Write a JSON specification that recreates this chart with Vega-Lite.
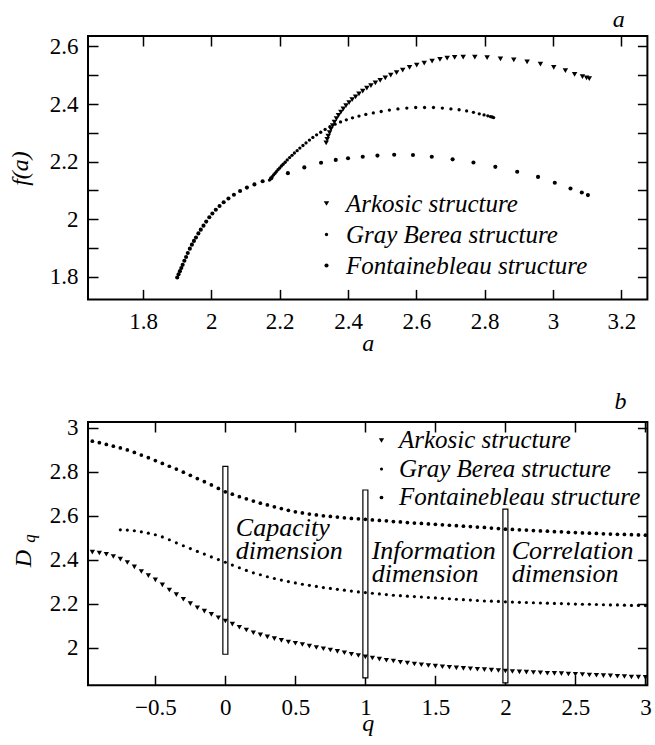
{
"$schema": "https://vega.github.io/schema/vega-lite/v6.json",
"padding": {"left": 8, "top": 7, "right": 5, "bottom": 5},
"background": "white",
"config": {
  "font": "Liberation Serif, Times New Roman, Tinos, DejaVu Serif, serif",
  "view": {"stroke": "black", "strokeWidth": 2},
  "axis": {"domain": false, "grid": false, "minExtent": 0, "tickColor": "black", "tickWidth": 1.5, "tickSize": -10, "labelFont": "Liberation Serif, Times New Roman, Tinos, DejaVu Serif, serif", "labelFontSize": 23, "labelColor": "black", "labelFlush": false, "labelOverlap": false, "titleFont": "Liberation Serif, Times New Roman, Tinos, DejaVu Serif, serif", "titleFontStyle": "italic", "titleFontWeight": "normal", "titleFontSize": 24, "titleColor": "black"},
  "axisX": {"labelPadding": 21.5},
  "axisY": {"labelPadding": 20},
  "legend": {"labelFont": "Liberation Serif, Times New Roman, Tinos, DejaVu Serif, serif"},
  "text": {"font": "Liberation Serif, Times New Roman, Tinos, DejaVu Serif, serif"}
},
"datasets": {
  "fa": [
    {"s":"Arkosic structure","a":2.336,"f":2.265},{"s":"Arkosic structure","a":2.339,"f":2.277},{"s":"Arkosic structure","a":2.342,"f":2.289},{"s":"Arkosic structure","a":2.346,"f":2.301},{"s":"Arkosic structure","a":2.350,"f":2.313},{"s":"Arkosic structure","a":2.355,"f":2.325},{"s":"Arkosic structure","a":2.360,"f":2.337},{"s":"Arkosic structure","a":2.366,"f":2.349},{"s":"Arkosic structure","a":2.372,"f":2.361},{"s":"Arkosic structure","a":2.379,"f":2.372},{"s":"Arkosic structure","a":2.386,"f":2.383},{"s":"Arkosic structure","a":2.394,"f":2.394},{"s":"Arkosic structure","a":2.403,"f":2.405},{"s":"Arkosic structure","a":2.412,"f":2.415},{"s":"Arkosic structure","a":2.422,"f":2.425},{"s":"Arkosic structure","a":2.432,"f":2.435},{"s":"Arkosic structure","a":2.443,"f":2.445},{"s":"Arkosic structure","a":2.455,"f":2.455},{"s":"Arkosic structure","a":2.467,"f":2.464},{"s":"Arkosic structure","a":2.480,"f":2.473},{"s":"Arkosic structure","a":2.494,"f":2.482},{"s":"Arkosic structure","a":2.509,"f":2.491},{"s":"Arkosic structure","a":2.525,"f":2.500},{"s":"Arkosic structure","a":2.542,"f":2.509},{"s":"Arkosic structure","a":2.560,"f":2.518},{"s":"Arkosic structure","a":2.580,"f":2.527},{"s":"Arkosic structure","a":2.601,"f":2.535},{"s":"Arkosic structure","a":2.623,"f":2.542},{"s":"Arkosic structure","a":2.646,"f":2.549},{"s":"Arkosic structure","a":2.669,"f":2.555},{"s":"Arkosic structure","a":2.690,"f":2.559},{"s":"Arkosic structure","a":2.712,"f":2.562},{"s":"Arkosic structure","a":2.737,"f":2.563},{"s":"Arkosic structure","a":2.771,"f":2.563},{"s":"Arkosic structure","a":2.807,"f":2.561},{"s":"Arkosic structure","a":2.846,"f":2.557},{"s":"Arkosic structure","a":2.885,"f":2.553},{"s":"Arkosic structure","a":2.924,"f":2.546},{"s":"Arkosic structure","a":2.963,"f":2.538},{"s":"Arkosic structure","a":3.002,"f":2.527},{"s":"Arkosic structure","a":3.036,"f":2.516},{"s":"Arkosic structure","a":3.063,"f":2.503},{"s":"Arkosic structure","a":3.086,"f":2.495},{"s":"Arkosic structure","a":3.098,"f":2.491},{"s":"Arkosic structure","a":3.106,"f":2.488},
    {"s":"Gray Berea structure","a":2.170,"f":2.136},{"s":"Gray Berea structure","a":2.174,"f":2.142},{"s":"Gray Berea structure","a":2.178,"f":2.148},{"s":"Gray Berea structure","a":2.182,"f":2.154},{"s":"Gray Berea structure","a":2.186,"f":2.159},{"s":"Gray Berea structure","a":2.190,"f":2.165},{"s":"Gray Berea structure","a":2.195,"f":2.172},{"s":"Gray Berea structure","a":2.200,"f":2.178},{"s":"Gray Berea structure","a":2.205,"f":2.185},{"s":"Gray Berea structure","a":2.210,"f":2.191},{"s":"Gray Berea structure","a":2.216,"f":2.198},{"s":"Gray Berea structure","a":2.222,"f":2.206},{"s":"Gray Berea structure","a":2.229,"f":2.214},{"s":"Gray Berea structure","a":2.236,"f":2.222},{"s":"Gray Berea structure","a":2.243,"f":2.230},{"s":"Gray Berea structure","a":2.251,"f":2.238},{"s":"Gray Berea structure","a":2.259,"f":2.247},{"s":"Gray Berea structure","a":2.268,"f":2.256},{"s":"Gray Berea structure","a":2.277,"f":2.265},{"s":"Gray Berea structure","a":2.287,"f":2.275},{"s":"Gray Berea structure","a":2.297,"f":2.284},{"s":"Gray Berea structure","a":2.308,"f":2.293},{"s":"Gray Berea structure","a":2.320,"f":2.302},{"s":"Gray Berea structure","a":2.333,"f":2.312},{"s":"Gray Berea structure","a":2.347,"f":2.321},{"s":"Gray Berea structure","a":2.362,"f":2.330},{"s":"Gray Berea structure","a":2.378,"f":2.338},{"s":"Gray Berea structure","a":2.395,"f":2.345},{"s":"Gray Berea structure","a":2.413,"f":2.352},{"s":"Gray Berea structure","a":2.432,"f":2.358},{"s":"Gray Berea structure","a":2.452,"f":2.364},{"s":"Gray Berea structure","a":2.474,"f":2.369},{"s":"Gray Berea structure","a":2.497,"f":2.374},{"s":"Gray Berea structure","a":2.521,"f":2.379},{"s":"Gray Berea structure","a":2.546,"f":2.383},{"s":"Gray Berea structure","a":2.572,"f":2.386},{"s":"Gray Berea structure","a":2.598,"f":2.388},{"s":"Gray Berea structure","a":2.624,"f":2.388},{"s":"Gray Berea structure","a":2.650,"f":2.388},{"s":"Gray Berea structure","a":2.676,"f":2.386},{"s":"Gray Berea structure","a":2.701,"f":2.383},{"s":"Gray Berea structure","a":2.725,"f":2.380},{"s":"Gray Berea structure","a":2.747,"f":2.376},{"s":"Gray Berea structure","a":2.767,"f":2.371},{"s":"Gray Berea structure","a":2.784,"f":2.366},{"s":"Gray Berea structure","a":2.798,"f":2.362},{"s":"Gray Berea structure","a":2.809,"f":2.359},{"s":"Gray Berea structure","a":2.817,"f":2.356},{"s":"Gray Berea structure","a":2.822,"f":2.355},{"s":"Gray Berea structure","a":2.826,"f":2.353},
    {"s":"Fontainebleau structure","a":1.900,"f":1.798},{"s":"Fontainebleau structure","a":1.904,"f":1.809},{"s":"Fontainebleau structure","a":1.908,"f":1.820},{"s":"Fontainebleau structure","a":1.912,"f":1.831},{"s":"Fontainebleau structure","a":1.916,"f":1.842},{"s":"Fontainebleau structure","a":1.921,"f":1.856},{"s":"Fontainebleau structure","a":1.926,"f":1.869},{"s":"Fontainebleau structure","a":1.931,"f":1.883},{"s":"Fontainebleau structure","a":1.937,"f":1.898},{"s":"Fontainebleau structure","a":1.943,"f":1.912},{"s":"Fontainebleau structure","a":1.949,"f":1.925},{"s":"Fontainebleau structure","a":1.955,"f":1.937},{"s":"Fontainebleau structure","a":1.962,"f":1.951},{"s":"Fontainebleau structure","a":1.969,"f":1.964},{"s":"Fontainebleau structure","a":1.977,"f":1.978},{"s":"Fontainebleau structure","a":1.985,"f":1.992},{"s":"Fontainebleau structure","a":1.994,"f":2.007},{"s":"Fontainebleau structure","a":2.003,"f":2.020},{"s":"Fontainebleau structure","a":2.013,"f":2.033},{"s":"Fontainebleau structure","a":2.024,"f":2.046},{"s":"Fontainebleau structure","a":2.036,"f":2.059},{"s":"Fontainebleau structure","a":2.050,"f":2.072},{"s":"Fontainebleau structure","a":2.066,"f":2.085},{"s":"Fontainebleau structure","a":2.084,"f":2.098},{"s":"Fontainebleau structure","a":2.104,"f":2.110},{"s":"Fontainebleau structure","a":2.126,"f":2.121},{"s":"Fontainebleau structure","a":2.150,"f":2.132},{"s":"Fontainebleau structure","a":2.175,"f":2.142},{"s":"Fontainebleau structure","a":2.224,"f":2.160},{"s":"Fontainebleau structure","a":2.272,"f":2.180},{"s":"Fontainebleau structure","a":2.321,"f":2.196},{"s":"Fontainebleau structure","a":2.364,"f":2.206},{"s":"Fontainebleau structure","a":2.400,"f":2.212},{"s":"Fontainebleau structure","a":2.443,"f":2.217},{"s":"Fontainebleau structure","a":2.486,"f":2.221},{"s":"Fontainebleau structure","a":2.535,"f":2.224},{"s":"Fontainebleau structure","a":2.590,"f":2.223},{"s":"Fontainebleau structure","a":2.645,"f":2.217},{"s":"Fontainebleau structure","a":2.706,"f":2.208},{"s":"Fontainebleau structure","a":2.767,"f":2.197},{"s":"Fontainebleau structure","a":2.831,"f":2.182},{"s":"Fontainebleau structure","a":2.895,"f":2.165},{"s":"Fontainebleau structure","a":2.956,"f":2.147},{"s":"Fontainebleau structure","a":3.005,"f":2.127},{"s":"Fontainebleau structure","a":3.051,"f":2.107},{"s":"Fontainebleau structure","a":3.084,"f":2.093},{"s":"Fontainebleau structure","a":3.102,"f":2.084}
  ],
  "dq": [
    {"s":"Arkosic structure","q":-0.95,"D":2.434},{"s":"Arkosic structure","q":-0.90,"D":2.430},{"s":"Arkosic structure","q":-0.85,"D":2.424},{"s":"Arkosic structure","q":-0.80,"D":2.414},{"s":"Arkosic structure","q":-0.75,"D":2.402},{"s":"Arkosic structure","q":-0.70,"D":2.387},{"s":"Arkosic structure","q":-0.65,"D":2.367},{"s":"Arkosic structure","q":-0.60,"D":2.346},{"s":"Arkosic structure","q":-0.55,"D":2.327},{"s":"Arkosic structure","q":-0.50,"D":2.308},{"s":"Arkosic structure","q":-0.45,"D":2.285},{"s":"Arkosic structure","q":-0.40,"D":2.262},{"s":"Arkosic structure","q":-0.35,"D":2.241},{"s":"Arkosic structure","q":-0.30,"D":2.220},{"s":"Arkosic structure","q":-0.25,"D":2.200},{"s":"Arkosic structure","q":-0.20,"D":2.181},{"s":"Arkosic structure","q":-0.15,"D":2.166},{"s":"Arkosic structure","q":-0.10,"D":2.151},{"s":"Arkosic structure","q":-0.05,"D":2.136},{"s":"Arkosic structure","q":0.00,"D":2.121},{"s":"Arkosic structure","q":0.05,"D":2.107},{"s":"Arkosic structure","q":0.10,"D":2.093},{"s":"Arkosic structure","q":0.15,"D":2.080},{"s":"Arkosic structure","q":0.20,"D":2.068},{"s":"Arkosic structure","q":0.25,"D":2.058},{"s":"Arkosic structure","q":0.30,"D":2.049},{"s":"Arkosic structure","q":0.35,"D":2.041},{"s":"Arkosic structure","q":0.40,"D":2.033},{"s":"Arkosic structure","q":0.45,"D":2.026},{"s":"Arkosic structure","q":0.50,"D":2.020},{"s":"Arkosic structure","q":0.55,"D":2.014},{"s":"Arkosic structure","q":0.60,"D":2.007},{"s":"Arkosic structure","q":0.65,"D":2.001},{"s":"Arkosic structure","q":0.70,"D":1.995},{"s":"Arkosic structure","q":0.75,"D":1.989},{"s":"Arkosic structure","q":0.80,"D":1.983},{"s":"Arkosic structure","q":0.85,"D":1.977},{"s":"Arkosic structure","q":0.90,"D":1.970},{"s":"Arkosic structure","q":0.95,"D":1.964},{"s":"Arkosic structure","q":1.00,"D":1.958},{"s":"Arkosic structure","q":1.05,"D":1.953},{"s":"Arkosic structure","q":1.10,"D":1.948},{"s":"Arkosic structure","q":1.15,"D":1.943},{"s":"Arkosic structure","q":1.20,"D":1.939},{"s":"Arkosic structure","q":1.25,"D":1.934},{"s":"Arkosic structure","q":1.30,"D":1.930},{"s":"Arkosic structure","q":1.35,"D":1.926},{"s":"Arkosic structure","q":1.40,"D":1.922},{"s":"Arkosic structure","q":1.45,"D":1.919},{"s":"Arkosic structure","q":1.50,"D":1.916},{"s":"Arkosic structure","q":1.55,"D":1.913},{"s":"Arkosic structure","q":1.60,"D":1.911},{"s":"Arkosic structure","q":1.65,"D":1.908},{"s":"Arkosic structure","q":1.70,"D":1.906},{"s":"Arkosic structure","q":1.75,"D":1.904},{"s":"Arkosic structure","q":1.80,"D":1.902},{"s":"Arkosic structure","q":1.85,"D":1.900},{"s":"Arkosic structure","q":1.90,"D":1.898},{"s":"Arkosic structure","q":1.95,"D":1.896},{"s":"Arkosic structure","q":2.00,"D":1.894},{"s":"Arkosic structure","q":2.05,"D":1.892},{"s":"Arkosic structure","q":2.10,"D":1.890},{"s":"Arkosic structure","q":2.15,"D":1.889},{"s":"Arkosic structure","q":2.20,"D":1.887},{"s":"Arkosic structure","q":2.25,"D":1.886},{"s":"Arkosic structure","q":2.30,"D":1.884},{"s":"Arkosic structure","q":2.35,"D":1.883},{"s":"Arkosic structure","q":2.40,"D":1.882},{"s":"Arkosic structure","q":2.45,"D":1.880},{"s":"Arkosic structure","q":2.50,"D":1.879},{"s":"Arkosic structure","q":2.55,"D":1.878},{"s":"Arkosic structure","q":2.60,"D":1.876},{"s":"Arkosic structure","q":2.65,"D":1.875},{"s":"Arkosic structure","q":2.70,"D":1.873},{"s":"Arkosic structure","q":2.75,"D":1.872},{"s":"Arkosic structure","q":2.80,"D":1.870},{"s":"Arkosic structure","q":2.85,"D":1.869},{"s":"Arkosic structure","q":2.90,"D":1.867},{"s":"Arkosic structure","q":2.95,"D":1.866},{"s":"Arkosic structure","q":3.00,"D":1.865},
    {"s":"Gray Berea structure","q":-0.75,"D":2.535},{"s":"Gray Berea structure","q":-0.70,"D":2.534},{"s":"Gray Berea structure","q":-0.65,"D":2.531},{"s":"Gray Berea structure","q":-0.60,"D":2.526},{"s":"Gray Berea structure","q":-0.55,"D":2.520},{"s":"Gray Berea structure","q":-0.50,"D":2.513},{"s":"Gray Berea structure","q":-0.45,"D":2.503},{"s":"Gray Berea structure","q":-0.40,"D":2.490},{"s":"Gray Berea structure","q":-0.35,"D":2.476},{"s":"Gray Berea structure","q":-0.30,"D":2.463},{"s":"Gray Berea structure","q":-0.25,"D":2.450},{"s":"Gray Berea structure","q":-0.20,"D":2.437},{"s":"Gray Berea structure","q":-0.15,"D":2.425},{"s":"Gray Berea structure","q":-0.10,"D":2.412},{"s":"Gray Berea structure","q":-0.05,"D":2.400},{"s":"Gray Berea structure","q":0.00,"D":2.388},{"s":"Gray Berea structure","q":0.05,"D":2.375},{"s":"Gray Berea structure","q":0.10,"D":2.363},{"s":"Gray Berea structure","q":0.15,"D":2.351},{"s":"Gray Berea structure","q":0.20,"D":2.340},{"s":"Gray Berea structure","q":0.25,"D":2.331},{"s":"Gray Berea structure","q":0.30,"D":2.322},{"s":"Gray Berea structure","q":0.35,"D":2.314},{"s":"Gray Berea structure","q":0.40,"D":2.307},{"s":"Gray Berea structure","q":0.45,"D":2.300},{"s":"Gray Berea structure","q":0.50,"D":2.294},{"s":"Gray Berea structure","q":0.55,"D":2.288},{"s":"Gray Berea structure","q":0.60,"D":2.283},{"s":"Gray Berea structure","q":0.65,"D":2.278},{"s":"Gray Berea structure","q":0.70,"D":2.273},{"s":"Gray Berea structure","q":0.75,"D":2.269},{"s":"Gray Berea structure","q":0.80,"D":2.265},{"s":"Gray Berea structure","q":0.85,"D":2.261},{"s":"Gray Berea structure","q":0.90,"D":2.257},{"s":"Gray Berea structure","q":0.95,"D":2.253},{"s":"Gray Berea structure","q":1.00,"D":2.250},{"s":"Gray Berea structure","q":1.05,"D":2.247},{"s":"Gray Berea structure","q":1.10,"D":2.244},{"s":"Gray Berea structure","q":1.15,"D":2.241},{"s":"Gray Berea structure","q":1.20,"D":2.238},{"s":"Gray Berea structure","q":1.25,"D":2.236},{"s":"Gray Berea structure","q":1.30,"D":2.234},{"s":"Gray Berea structure","q":1.35,"D":2.232},{"s":"Gray Berea structure","q":1.40,"D":2.230},{"s":"Gray Berea structure","q":1.45,"D":2.228},{"s":"Gray Berea structure","q":1.50,"D":2.226},{"s":"Gray Berea structure","q":1.55,"D":2.224},{"s":"Gray Berea structure","q":1.60,"D":2.222},{"s":"Gray Berea structure","q":1.65,"D":2.220},{"s":"Gray Berea structure","q":1.70,"D":2.218},{"s":"Gray Berea structure","q":1.75,"D":2.216},{"s":"Gray Berea structure","q":1.80,"D":2.214},{"s":"Gray Berea structure","q":1.85,"D":2.212},{"s":"Gray Berea structure","q":1.90,"D":2.211},{"s":"Gray Berea structure","q":1.95,"D":2.210},{"s":"Gray Berea structure","q":2.00,"D":2.208},{"s":"Gray Berea structure","q":2.05,"D":2.207},{"s":"Gray Berea structure","q":2.10,"D":2.206},{"s":"Gray Berea structure","q":2.15,"D":2.205},{"s":"Gray Berea structure","q":2.20,"D":2.204},{"s":"Gray Berea structure","q":2.25,"D":2.203},{"s":"Gray Berea structure","q":2.30,"D":2.202},{"s":"Gray Berea structure","q":2.35,"D":2.201},{"s":"Gray Berea structure","q":2.40,"D":2.200},{"s":"Gray Berea structure","q":2.45,"D":2.199},{"s":"Gray Berea structure","q":2.50,"D":2.198},{"s":"Gray Berea structure","q":2.55,"D":2.197},{"s":"Gray Berea structure","q":2.60,"D":2.197},{"s":"Gray Berea structure","q":2.65,"D":2.196},{"s":"Gray Berea structure","q":2.70,"D":2.195},{"s":"Gray Berea structure","q":2.75,"D":2.194},{"s":"Gray Berea structure","q":2.80,"D":2.194},{"s":"Gray Berea structure","q":2.85,"D":2.193},{"s":"Gray Berea structure","q":2.90,"D":2.192},{"s":"Gray Berea structure","q":2.95,"D":2.192},{"s":"Gray Berea structure","q":3.00,"D":2.191},
    {"s":"Fontainebleau structure","q":-0.95,"D":2.938},{"s":"Fontainebleau structure","q":-0.90,"D":2.931},{"s":"Fontainebleau structure","q":-0.85,"D":2.923},{"s":"Fontainebleau structure","q":-0.80,"D":2.915},{"s":"Fontainebleau structure","q":-0.75,"D":2.907},{"s":"Fontainebleau structure","q":-0.70,"D":2.898},{"s":"Fontainebleau structure","q":-0.65,"D":2.887},{"s":"Fontainebleau structure","q":-0.60,"D":2.875},{"s":"Fontainebleau structure","q":-0.55,"D":2.863},{"s":"Fontainebleau structure","q":-0.50,"D":2.850},{"s":"Fontainebleau structure","q":-0.45,"D":2.837},{"s":"Fontainebleau structure","q":-0.40,"D":2.824},{"s":"Fontainebleau structure","q":-0.35,"D":2.811},{"s":"Fontainebleau structure","q":-0.30,"D":2.797},{"s":"Fontainebleau structure","q":-0.25,"D":2.783},{"s":"Fontainebleau structure","q":-0.20,"D":2.768},{"s":"Fontainebleau structure","q":-0.15,"D":2.754},{"s":"Fontainebleau structure","q":-0.10,"D":2.739},{"s":"Fontainebleau structure","q":-0.05,"D":2.723},{"s":"Fontainebleau structure","q":0.00,"D":2.708},{"s":"Fontainebleau structure","q":0.05,"D":2.697},{"s":"Fontainebleau structure","q":0.10,"D":2.686},{"s":"Fontainebleau structure","q":0.15,"D":2.676},{"s":"Fontainebleau structure","q":0.20,"D":2.666},{"s":"Fontainebleau structure","q":0.25,"D":2.656},{"s":"Fontainebleau structure","q":0.30,"D":2.648},{"s":"Fontainebleau structure","q":0.35,"D":2.640},{"s":"Fontainebleau structure","q":0.40,"D":2.632},{"s":"Fontainebleau structure","q":0.45,"D":2.624},{"s":"Fontainebleau structure","q":0.50,"D":2.617},{"s":"Fontainebleau structure","q":0.55,"D":2.612},{"s":"Fontainebleau structure","q":0.60,"D":2.607},{"s":"Fontainebleau structure","q":0.65,"D":2.603},{"s":"Fontainebleau structure","q":0.70,"D":2.599},{"s":"Fontainebleau structure","q":0.75,"D":2.596},{"s":"Fontainebleau structure","q":0.80,"D":2.593},{"s":"Fontainebleau structure","q":0.85,"D":2.590},{"s":"Fontainebleau structure","q":0.90,"D":2.587},{"s":"Fontainebleau structure","q":0.95,"D":2.585},{"s":"Fontainebleau structure","q":1.00,"D":2.583},{"s":"Fontainebleau structure","q":1.05,"D":2.580},{"s":"Fontainebleau structure","q":1.10,"D":2.578},{"s":"Fontainebleau structure","q":1.15,"D":2.576},{"s":"Fontainebleau structure","q":1.20,"D":2.573},{"s":"Fontainebleau structure","q":1.25,"D":2.571},{"s":"Fontainebleau structure","q":1.30,"D":2.568},{"s":"Fontainebleau structure","q":1.35,"D":2.566},{"s":"Fontainebleau structure","q":1.40,"D":2.564},{"s":"Fontainebleau structure","q":1.45,"D":2.562},{"s":"Fontainebleau structure","q":1.50,"D":2.560},{"s":"Fontainebleau structure","q":1.55,"D":2.558},{"s":"Fontainebleau structure","q":1.60,"D":2.556},{"s":"Fontainebleau structure","q":1.65,"D":2.554},{"s":"Fontainebleau structure","q":1.70,"D":2.552},{"s":"Fontainebleau structure","q":1.75,"D":2.550},{"s":"Fontainebleau structure","q":1.80,"D":2.548},{"s":"Fontainebleau structure","q":1.85,"D":2.546},{"s":"Fontainebleau structure","q":1.90,"D":2.543},{"s":"Fontainebleau structure","q":1.95,"D":2.541},{"s":"Fontainebleau structure","q":2.00,"D":2.538},{"s":"Fontainebleau structure","q":2.05,"D":2.537},{"s":"Fontainebleau structure","q":2.10,"D":2.535},{"s":"Fontainebleau structure","q":2.15,"D":2.534},{"s":"Fontainebleau structure","q":2.20,"D":2.532},{"s":"Fontainebleau structure","q":2.25,"D":2.530},{"s":"Fontainebleau structure","q":2.30,"D":2.529},{"s":"Fontainebleau structure","q":2.35,"D":2.527},{"s":"Fontainebleau structure","q":2.40,"D":2.526},{"s":"Fontainebleau structure","q":2.45,"D":2.524},{"s":"Fontainebleau structure","q":2.50,"D":2.523},{"s":"Fontainebleau structure","q":2.55,"D":2.521},{"s":"Fontainebleau structure","q":2.60,"D":2.520},{"s":"Fontainebleau structure","q":2.65,"D":2.519},{"s":"Fontainebleau structure","q":2.70,"D":2.517},{"s":"Fontainebleau structure","q":2.75,"D":2.516},{"s":"Fontainebleau structure","q":2.80,"D":2.515},{"s":"Fontainebleau structure","q":2.85,"D":2.514},{"s":"Fontainebleau structure","q":2.90,"D":2.513},{"s":"Fontainebleau structure","q":2.95,"D":2.512},{"s":"Fontainebleau structure","q":3.00,"D":2.511}
  ],
  "bars": [
    {"q":0,"lo":1.970,"hi":2.823},{"q":1,"lo":1.863,"hi":2.716},{"q":2,"lo":1.840,"hi":2.629}
  ],
  "notes": [
    {"q":0.075,"D":2.542,"t":"Capacity\ndimension"},{"q":1.045,"D":2.439,"t":"Information\ndimension"},{"q":2.045,"D":2.439,"t":"Correlation\ndimension"}
  ]
},
"spacing": 122,
"bounds": "flush",
"resolve": {"scale": {"shape": "independent", "size": "independent"}, "legend": {"shape": "independent", "size": "independent"}},
"vconcat": [
  {
    "width": 559.4, "height": 263.4,
    "title": {"text": "a", "anchor": "end", "frame": "group", "font": "Liberation Serif, Times New Roman, Tinos, DejaVu Serif, serif", "fontStyle": "italic", "fontWeight": "normal", "fontSize": 24, "color": "black", "baseline": "alphabetic", "offset": -16, "dx": -22.7},
    "data": {"name": "fa"},
    "layer": [
      {
        "mark": {"type": "point", "filled": true, "color": "black", "opacity": 1, "strokeWidth": 0},
        "encoding": {
          "x": {"field": "a", "type": "quantitative", "scale": {"domain": [1.639, 3.276], "nice": false, "zero": false},
                "axis": {"orient": "bottom", "values": [1.8, 2, 2.2, 2.4, 2.6, 2.8, 3, 3.2], "format": "~g", "title": "a", "titleX": 279.7, "titleY": 51, "titleAlign": "center", "titleBaseline": "alphabetic"}},
          "y": {"field": "f", "type": "quantitative", "scale": {"domain": [1.722, 2.636], "nice": false, "zero": false},
                "axis": {"orient": "left", "values": [1.8, 1.9, 2, 2.1, 2.2, 2.3, 2.4, 2.5, 2.6], "labelExpr": "round(datum.value*10) % 2 == 1 ? '' : format(datum.value, '~g')", "title": "f(a)", "titleX": -60, "titleY": 132, "titleAngle": -90, "titleAlign": "center", "titleBaseline": "alphabetic"}},
          "shape": {"field": "s", "type": "nominal", "scale": {"domain": ["Arkosic structure", "Gray Berea structure", "Fontainebleau structure"], "range": ["triangle-down", "circle", "circle"]},
                    "legend": {"orient": "none", "legendX": 226, "legendY": 155, "title": null, "labelFontStyle": "italic", "labelFontSize": 25, "labelColor": "black", "labelLimit": 400, "labelOffset": 7, "rowPadding": 5, "padding": 0}},
          "size": {"field": "s", "type": "nominal", "scale": {"type": "ordinal", "domain": ["Arkosic structure", "Gray Berea structure", "Fontainebleau structure"], "range": [30, 11, 17]}}
        }
      },
      {
        "mark": {"type": "point", "opacity": 0},
        "encoding": {
          "x": {"field": "a", "type": "quantitative", "axis": {"orient": "top", "values": [1.8, 2, 2.2, 2.4, 2.6, 2.8, 3, 3.2], "labels": false, "title": null}},
          "y": {"field": "f", "type": "quantitative", "axis": {"orient": "right", "values": [1.8, 1.9, 2, 2.1, 2.2, 2.3, 2.4, 2.5, 2.6], "labels": false, "title": null}}
        }
      }
    ],
    "resolve": {"axis": {"x": "independent", "y": "independent"}}
  },
  {
    "width": 559.4, "height": 263.3,
    "title": {"text": "b", "anchor": "end", "frame": "group", "font": "Liberation Serif, Times New Roman, Tinos, DejaVu Serif, serif", "fontStyle": "italic", "fontWeight": "normal", "fontSize": 24, "color": "black", "baseline": "alphabetic", "offset": -16.5, "dx": -21},
    "layer": [
      {
        "data": {"name": "bars"},
        "mark": {"type": "rect", "width": 5, "fill": "white", "stroke": "black", "strokeWidth": 1.2},
        "encoding": {
          "x": {"field": "q", "type": "quantitative", "scale": {"domain": [-0.981, 3.014], "nice": false, "zero": false},
                "axis": {"orient": "bottom", "values": [-0.5, 0, 0.5, 1, 1.5, 2, 2.5, 3], "format": "~g", "title": "q", "titleX": 279.7, "titleY": 45, "titleAlign": "center", "titleBaseline": "alphabetic"}},
          "y": {"field": "lo", "type": "quantitative", "scale": {"domain": [1.829, 3.025], "nice": false, "zero": false},
                "axis": {"orient": "left", "values": [2, 2.2, 2.4, 2.6, 2.8, 3], "format": "~g", "title": "D", "titleX": -57, "titleY": 136, "titleAngle": -90, "titleAlign": "center", "titleBaseline": "alphabetic"}},
          "y2": {"field": "hi"}
        }
      },
      {
        "data": {"name": "dq"},
        "mark": {"type": "point", "filled": true, "color": "black", "opacity": 1, "strokeWidth": 0},
        "encoding": {
          "x": {"field": "q", "type": "quantitative", "axis": {"orient": "top", "values": [-0.5, 0, 0.5, 1, 1.5, 2, 2.5, 3], "labels": false, "title": null}},
          "y": {"field": "D", "type": "quantitative", "axis": {"orient": "right", "values": [2, 2.2, 2.4, 2.6, 2.8, 3], "labels": false, "title": null}},
          "shape": {"field": "s", "type": "nominal", "scale": {"domain": ["Arkosic structure", "Gray Berea structure", "Fontainebleau structure"], "range": ["triangle-down", "circle", "circle"]},
                    "legend": {"orient": "none", "legendX": 281, "legendY": 6, "title": null, "labelFontStyle": "italic", "labelFontSize": 25, "labelColor": "black", "labelLimit": 400, "labelOffset": 5, "rowPadding": 2.5, "padding": 0}},
          "size": {"field": "s", "type": "nominal", "scale": {"type": "ordinal", "domain": ["Arkosic structure", "Gray Berea structure", "Fontainebleau structure"], "range": [28, 10, 14]}}
        }
      },
      {
        "data": {"name": "notes"},
        "mark": {"type": "text", "align": "left", "baseline": "middle", "lineBreak": "\n", "lineHeight": 23, "fontStyle": "italic", "fontSize": 26, "color": "black"},
        "encoding": {
          "x": {"field": "q", "type": "quantitative", "axis": null},
          "y": {"field": "D", "type": "quantitative", "axis": {"orient": "left", "labels": false, "ticks": false, "domain": false, "title": "q", "titleFontSize": 17, "titleX": -53, "titleY": 116, "titleAngle": -90, "titleAlign": "center", "titleBaseline": "alphabetic"}},
          "text": {"field": "t"}
        }
      }
    ],
    "resolve": {"axis": {"x": "independent", "y": "independent"}}
  }
]
}
